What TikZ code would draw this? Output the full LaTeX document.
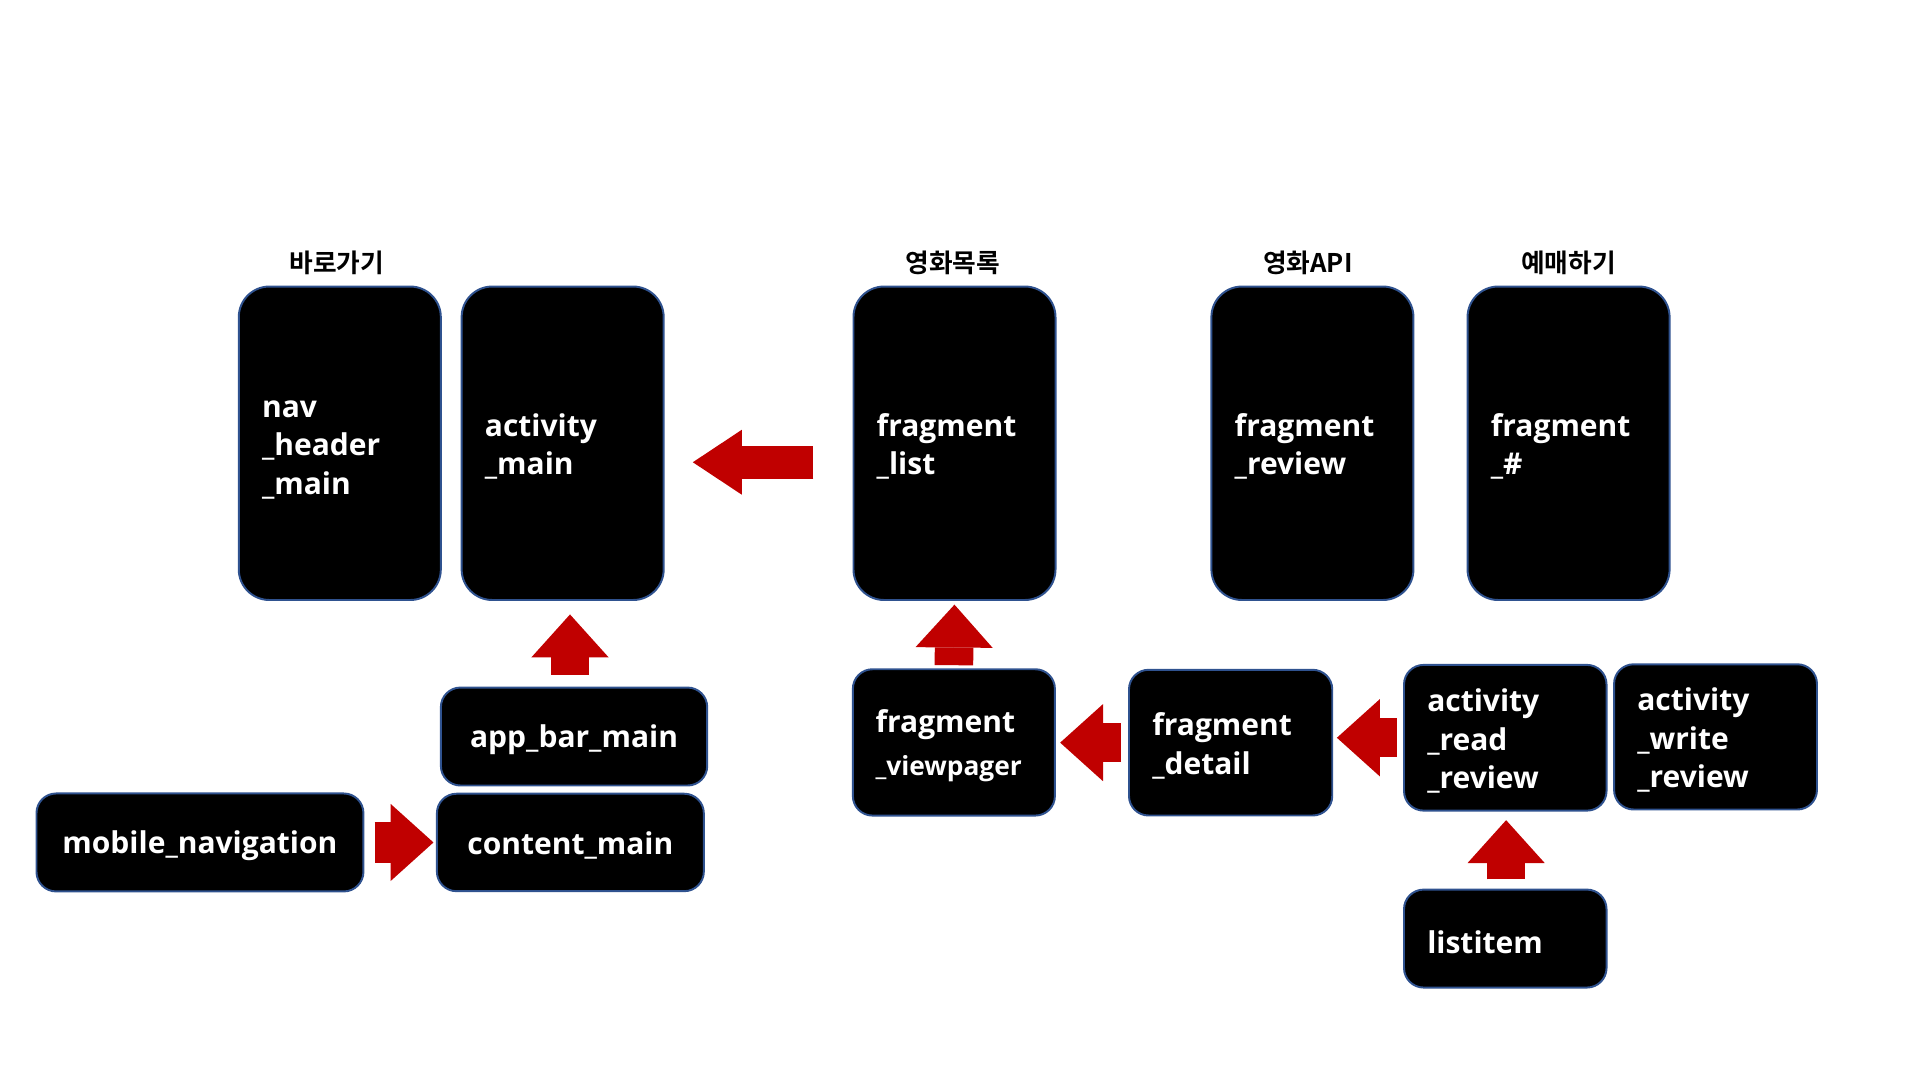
\documentclass[tikz,border=0pt]{standalone}
\usepackage{fontspec}
\setmainfont{Open Sans}
\newfontfamily\krfont{Noto Sans CJK KR}[BoldFont={Noto Sans CJK KR Bold}]
\usetikzlibrary{arrows.meta,positioning}
\definecolor{boxblue}{HTML}{2F528F}
\definecolor{arrowred}{HTML}{C00000}

\begin{document}
\begin{tikzpicture}[x=1pt,y=-1pt,
  main node/.style={rectangle, fill=black, draw=boxblue, line width=1.6pt, text=white,
    font=\fontsize{24.5}{31.5}\selectfont\bfseries, align=left, inner xsep=19pt, inner ysep=0pt, text height=24pt},
  tall node/.style={main node, rounded corners=25pt, minimum width=165pt, text width=127pt, minimum height=256pt},
  small node/.style={main node, rounded corners=16pt},
  head label/.style={font=\krfont\bfseries\fontsize{21}{24}\selectfont},
  big arrow/.style={draw=arrowred, line width=31.5pt, -{Triangle[length=35pt,width=63pt,line width=0pt,fill=arrowred]}}]

  \useasboundingbox (0,0) rectangle (1568,882);

  % top row
  \node[tall node] (nav) at (277.5,362) {nav\\\_header\\\_main};
  \node[tall node] (am) at (459.5,362) {activity\\\_main};
  \node[tall node] (fl) at (779.5,362) {fragment\\\_list};
  \node[tall node] (fr) at (1071.8,362) {fragment\\\_review};
  \node[tall node] (fh) at (1281,362) {fragment\\\_\#};

  \node[head label] (lnav) at (275,215) {바로가기};
  \node[head label] (lfl) at (778,215) {영화목록};
  \node[head label] (lfr) at (1068,215) {영화API};
  \node[head label] (lfh) at (1281,215) {예매하기};

  % bottom row
  \node[small node, align=center, minimum width=217.5pt, text width=179.5pt, minimum height=80pt] (ab) at (468.8,601.5) {app\_bar\_main};
  \node[small node, align=center, minimum width=218pt, text width=180pt, minimum height=79.6pt] (cm) at (465.8,688) {content\_main};
  \node[small node, align=center, minimum width=267pt, text width=229pt, minimum height=80pt] (mn) at (163.3,688) {mobile\_navigation};
  \node[small node, minimum width=165pt, text width=128pt, minimum height=119.5pt, inner xsep=18pt] (fv) at (779,606.3)
    {fragment\\[3pt]{\fontsize{21.5}{31.5}\selectfont\_viewpager}};
  \node[small node, minimum width=166pt, text width=128pt, minimum height=119pt] (fd) at (1005,606.5) {fragment\\\_detail};
  \node[small node, minimum width=165.4pt, text width=127.4pt, minimum height=119pt] (arr) at (1229.3,602.5) {activity\\\_read\\\_review};
  \node[small node, minimum width=165.7pt, text width=127.7pt, minimum height=118.6pt] (awr) at (1401,601.8) {activity\\\_write\\\_review};
  \node[small node, minimum width=165.4pt, text width=127.4pt, minimum height=80pt] (li) at (1229.3,766.5) {listitem};

  % arrows
  \draw[big arrow, line width=27pt, -{Triangle[length=40pt,width=53pt,line width=0pt,fill=arrowred]},
    shorten <=32pt, shorten >=23pt] ([yshift=-15.5pt]fl.west) -- ([yshift=-15.5pt]am.east);
  \draw[big arrow, shorten <=9.5pt, shorten >=11pt] ([xshift=-3.3pt]ab.north) -- ([xshift=6pt]am.south);
  \draw[big arrow, line width=33pt, shorten <=8.3pt, shorten >=2pt] (mn.east) -- (mn.east -| cm.west);
  \draw[big arrow, shorten <=2.5pt, shorten >=3pt] (fv.north) -- (fl.south);
  \draw[big arrow, shorten <=5.7pt, shorten >=3.5pt] (fd.west) -- (fd.west -| fv.east);
  \draw[big arrow, shorten <=5pt, shorten >=3pt] (arr.west) -- (arr.west -| fd.east);
  \draw[big arrow, shorten <=7.6pt, shorten >=7pt] ([xshift=0.7pt]li.north) -- ([xshift=0.7pt]arr.south);
\end{tikzpicture}
\end{document}
